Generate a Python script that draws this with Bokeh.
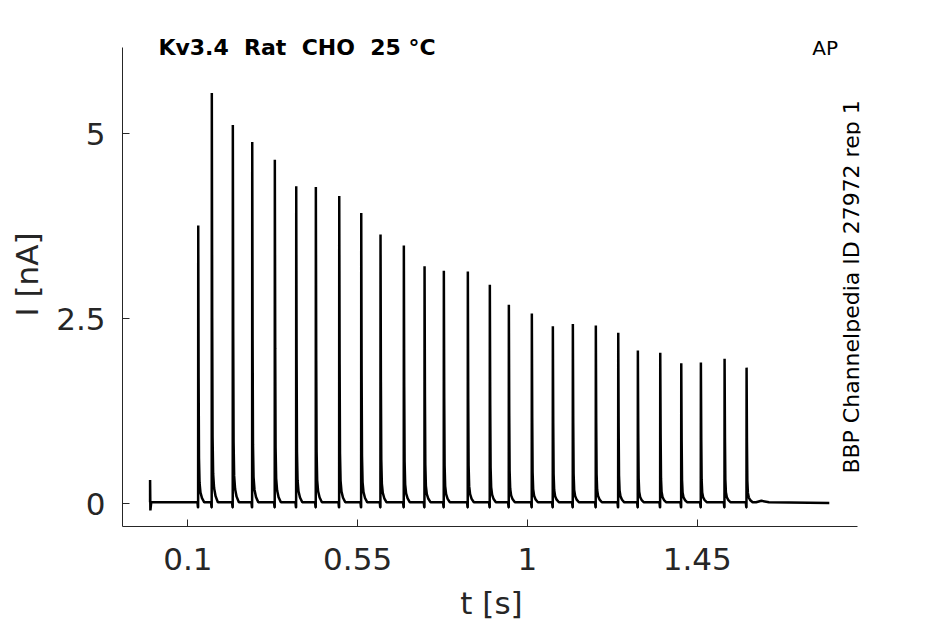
import math
from bokeh.plotting import figure
from bokeh.models import Range1d, FixedTicker, Label
from bokeh.embed import file_html
from bokeh.resources import INLINE

# ---------------- data ----------------
spike_t = [0.1276, 0.1636, 0.2193, 0.2707, 0.3306, 0.3873, 0.4393, 0.5013, 0.5596,
           0.6107, 0.6725, 0.7274, 0.7785, 0.8421, 0.9004, 0.9508, 1.0117, 1.0674,
           1.1204, 1.1813, 1.2407, 1.2927, 1.3520, 1.4077, 1.4597, 1.5225, 1.5808]
spike_peak = [3.74, 5.53, 5.10, 4.87, 4.63, 4.27, 4.26, 4.14, 3.91,
              3.62, 3.47, 3.19, 3.13, 3.12, 2.94, 2.67, 2.55, 2.38,
              2.41, 2.39, 2.29, 2.05, 2.02, 1.88, 1.89, 1.94, 1.82]
# spike waveform (ms relative to peak, fraction of peak, extra nA)
shape_ms = [-2.0, -0.8, -0.3, 0.0, 1.0, 2.0, 3.5, 6.0, 10.0, 16.0]
shape_frac = [0.0, 0.0, 0.0, 1.0, 0.45, 0.16, 0.07, 0.035, 0.015, 0.0]
shape_extra = [0.0, -0.07, -0.07, 0.0, 0.0, 0.0, 0.0, 0.0, 0.0, 0.0]
baseline_nA = 0.02
# start artefact and end of recording
start_t = [0.0, 0.0, 0.0008, 0.003]
start_i = [0.02, 0.32, -0.09, 0.02]
tail_t = [1.606, 1.620, 1.640, 1.800]
tail_i = [0.02, 0.04, 0.02, 0.01]

x_ticks = [0.1, 0.55, 1.0, 1.45]
x_tick_labels = ["0.1", "0.55", "1", "1.45"]
y_ticks = [0, 2.5, 5]
y_tick_labels = ["0", "2.5", "5"]

title_text = "Kv3.4\u00a0 Rat\u00a0 CHO\u00a0 25 °C"
protocol_text = "AP"
side_text = "BBP Channelpedia ID 27972 rep 1"

# ---------------- build trace ----------------
t_pts = list(start_t)
i_pts = list(start_i)
for ts, pk in zip(spike_t, spike_peak):
    for ms, fr, ex in zip(shape_ms, shape_frac, shape_extra):
        t_pts.append(ts + ms / 1000.0)
        i_pts.append(baseline_nA + fr * pk + ex)
t_pts += tail_t
i_pts += tail_i

AX = "#262626"
FONT = "DejaVu Sans"
X_AXIS_END = (-0.0731, 1.874)
Y_AXIS_END = (-0.307, 6.166)

p = figure(frame_width=738, frame_height=504,
           min_border_left=122, min_border_top=22, min_border_right=60, min_border_bottom=0,
           x_range=Range1d(-0.0731, 1.8827), y_range=Range1d(-0.307, 6.504),
           output_backend="svg", toolbar_location=None)
p.outline_line_color = None
p.grid.visible = False
p.background_fill_color = "white"
p.border_fill_color = "white"

p.line(t_pts, i_pts, line_color="black", line_width=2.5)

for ax in (p.xaxis[0], p.yaxis[0]):
    ax.axis_line_color = AX
    ax.axis_line_width = 1
    ax.major_tick_line_color = AX
    ax.major_tick_in = 7
    ax.major_tick_out = 0
    ax.minor_tick_line_color = None
    ax.major_label_text_font = FONT
    ax.major_label_text_font_size = "31px"
    ax.major_label_text_color = AX
    ax.axis_label_text_font = FONT
    ax.axis_label_text_font_size = "31px"
    ax.axis_label_text_font_style = "normal"
    ax.axis_label_text_color = AX

p.xaxis.bounds = X_AXIS_END
p.xaxis.ticker = FixedTicker(ticks=x_ticks)
p.xaxis.major_label_overrides = {k: v for k, v in zip(x_ticks, x_tick_labels)}
p.xaxis.axis_label = "t [s]"
p.xaxis.major_label_standoff = 21
p.xaxis.axis_label_standoff = 12

p.yaxis.bounds = Y_AXIS_END
p.yaxis.ticker = FixedTicker(ticks=y_ticks)
p.yaxis.major_label_overrides = {k: v for k, v in zip(y_ticks, y_tick_labels)}
p.yaxis.axis_label = "I [nA]"
p.yaxis.major_label_standoff = 17
p.yaxis.axis_label_standoff = 8

p.add_layout(Label(x=0.022, y=6.166, text=title_text, text_font=FONT, text_font_size="22px",
                   text_font_style="bold", text_color="black", text_align="left",
                   text_baseline="alphabetic"))
p.add_layout(Label(x=1.7549, y=6.166, text=protocol_text, text_font=FONT, text_font_size="20px",
                   text_color="black", text_align="left", text_baseline="alphabetic"))
p.add_layout(Label(x=1.858, y=2.93, text=side_text, text_font=FONT, text_font_size="22px",
                   text_color="black", text_align="center", text_baseline="middle",
                   angle=math.pi / 2))

open("out.html", "w").write(file_html(p, INLINE))
